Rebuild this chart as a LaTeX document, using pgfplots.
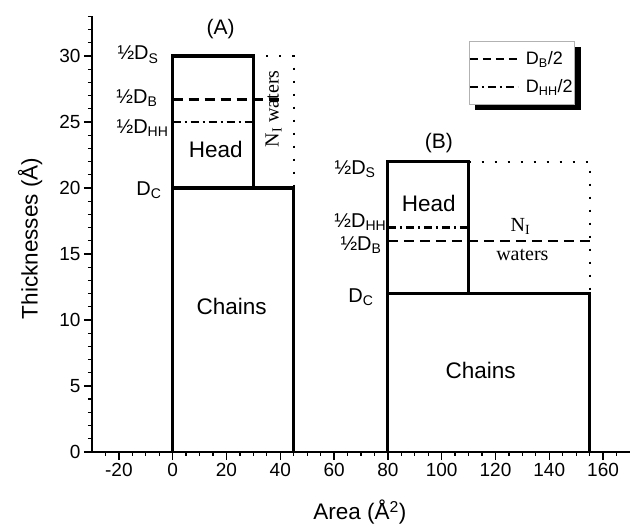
\documentclass[border=0pt]{standalone}
\usepackage{fontspec}
\setmainfont{Liberation Sans}
\newfontfamily\serifff{Liberation Serif}
\usepackage{pgfplots}
\pgfplotsset{compat=1.18}
\pgfdeclarelayer{background}
\pgfsetlayers{background,main}
\begin{document}
\begin{tikzpicture}
\begin{axis}[
 scale only axis, width=538pt, height=435.6pt,
 xmin=-30, xmax=170, ymin=0, ymax=33,
 axis x line*=bottom, axis y line*=left,
 axis line style={-, line width=1.6pt},
 xtick={-20,0,...,160}, ytick={0,5,...,30},
 minor xtick={-25,-20,...,165}, minor ytick={1,2,...,33},
 tick align=outside, major tick length=8pt, minor tick length=4pt,
 every tick/.style={black, line width=1.3pt},
 tick label style={font=\fontsize{19}{22}\selectfont},
 /pgf/number format/assume math mode=true,
 xlabel={Area (Å\textsuperscript{2})}, ylabel={Thicknesses (Å)},
 label style={font=\fontsize{22.5}{27}\selectfont},
 xlabel style={at={(axis description cs:0.498,-0.156)}, anchor=base},
 ylabel style={at={(axis description cs:-0.115,0.49)}, anchor=center},
 clip=false,
 legend style={at={(axis cs:110,31.1)}, anchor=north west, draw=gray!60, line width=0.8pt, fill=white,
   font=\fontsize{18}{21}\selectfont, inner xsep=0pt, inner ysep=8pt, row sep=9pt,
   nodes={inner sep=2pt}, name=leg},
 legend cell align=left,
 legend image code/.code={\draw[#1] (-1pt,0pt) -- (47pt,0pt);},
 box/.style={black, line width=3.2pt, forget plot},
 dsh/.style={black, line width=2.3pt, dash pattern=on 10pt off 6pt, forget plot},
 dshd/.style={black, line width=2.3pt, dash pattern=on 8pt off 4pt on 2pt off 4pt, forget plot},
 dot/.style={black, line width=2pt, dash pattern=on 2pt off 11pt, forget plot},
]
\addlegendimage{black, line width=2pt, dash pattern=on 8pt off 5pt}
\addlegendentry{\hspace{5pt}D\textsubscript{B}/2}
\addlegendimage{black, line width=2pt, dash pattern=on 8pt off 4pt on 2pt off 4pt}
\addlegendentry{\hspace{5pt}D\textsubscript{HH}/2}
% (A)
\addplot[box] coordinates {(0,0) (0,20) (45,20) (45,0)};
\addplot[box] coordinates {(0,20) (0,30) (30,30) (30,20)};
\addplot[dot] coordinates {(30,30) (45,30) (45,20)};
\addplot[dsh] coordinates {(0,26.7) (41,26.7)};
\addplot[dshd] coordinates {(0,25) (30,25)};
% (B)
\addplot[box] coordinates {(80,0) (80,12) (155,12) (155,0)};
\addplot[box] coordinates {(80,12) (80,22) (110,22) (110,12)};
\addplot[dot] coordinates {(110,22) (155,22) (155,12)};
\addplot[dsh] coordinates {(80,16) (155,16)};
\addplot[dshd] coordinates {(80,17) (110,17)};
% labels
\path (axis cs:-64.2,-5.38) rectangle (axis cs:171.5,34.24);
\begin{scope}[every node/.style={font=\fontsize{20}{24}\selectfont, inner sep=0pt}]
\node[font=\fontsize{21}{25}\selectfont] at (axis cs:17.8,32) {(A)};
\node[font=\fontsize{21}{25}\selectfont] at (axis cs:99,23.4) {(B)};
\node[anchor=east] at (axis cs:-5.2,30.1) {½D\textsubscript{S}};
\node[anchor=east] at (axis cs:-5.6,26.8) {½D\textsubscript{B}};
\node[anchor=east] at (axis cs:-1.5,24.5) {½D\textsubscript{HH}};
\node[anchor=east] at (axis cs:-4.1,19.85) {D\textsubscript{C}};
\node[anchor=east] at (axis cs:75.5,21.4) {½D\textsubscript{S}};
\node[anchor=east] at (axis cs:79.5,17.4) {½D\textsubscript{HH}};
\node[anchor=east] at (axis cs:77.7,15.7) {½D\textsubscript{B}};
\node[anchor=east] at (axis cs:74.7,11.7) {D\textsubscript{C}};
\end{scope}
\begin{scope}[every node/.style={font=\fontsize{22.5}{27}\selectfont, inner sep=0pt}]
\node at (axis cs:16,22.9) {Head};
\node at (axis cs:21.9,11) {Chains};
\node at (axis cs:95.2,18.8) {Head};
\node at (axis cs:114.5,6.2) {Chains};
\end{scope}
\begin{scope}[every node/.style={font=\serifff\fontsize{20}{24}\selectfont, inner sep=0pt}]
\node[rotate=90] at (axis cs:37.5,26) {N\textsubscript{I} waters};
\node at (axis cs:129.3,17.1) {N\textsubscript{I}};
\node at (axis cs:130,14.9) {waters};
\end{scope}
\end{axis}
\begin{pgfonlayer}{background}
\fill[black] ([xshift=6pt,yshift=-6pt]leg.south west) rectangle ([xshift=6pt,yshift=-6pt]leg.north east);
\end{pgfonlayer}
\end{tikzpicture}
\end{document}
